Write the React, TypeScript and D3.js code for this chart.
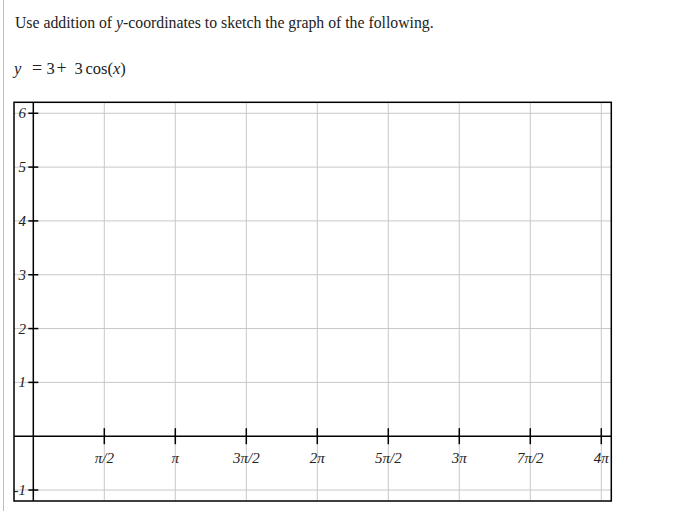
import React from "react";
import * as d3 from "d3";

const title = "Use addition of ";
const titleVar = "y";
const titleRest = "-coordinates to sketch the graph of the following.";
const xTickValues = [1, 2, 3, 4, 5, 6, 7, 8]; // in units of π/2
const xTickLabels = ["π/2", "π", "3π/2", "2π", "5π/2", "3π", "7π/2", "4π"];
const yTickValues = [-1, 1, 2, 3, 4, 5, 6];
const yTickLabels = ["-1", "1", "2", "3", "4", "5", "6"];
const xDomain = [-0.272, 8.141];
const yDomain = [-1.204, 6.204];

export default function App() {
  const W = 680, H = 511;
  const left = 14, right = 611.3, top = 102.3, bottom = 501;
  const x = d3.scaleLinear().domain(xDomain).range([left, right]);
  const y = d3.scaleLinear().domain(yDomain).range([bottom, top]);
  const grid = "#c8c8c8";
  const serif = { fontFamily: "Liberation Serif" };
  return (
    <svg width={W} height={H} style={{ position: "absolute", left: 0, top: 0, background: "#fff" }}>
      <line x1={3.5} x2={3.5} y1={0} y2={511} stroke="#bdbdbd" strokeWidth={1} />
      <text x={15} y={27.5} style={serif} fontSize={15.75} fill="#222">
        {title}
        <tspan fontStyle="italic">{titleVar}</tspan>
        {titleRest}
      </text>
      <text y={74} style={serif} fontSize={16.5} fill="#222">
        <tspan x={14} fontStyle="italic">y</tspan>
        <tspan x={32} fontSize={18}>=</tspan>
        <tspan x={46.5}>3</tspan>
        <tspan x={56.5} fontSize={18}>+</tspan>
        <tspan x={74.5}>3</tspan>
        <tspan x={85.5}>cos(</tspan>
        <tspan fontStyle="italic">x</tspan>
        <tspan>)</tspan>
      </text>
      {xTickValues.map((v) => (
        <line key={"gx" + v} x1={x(v)} x2={x(v)} y1={top} y2={bottom} stroke={grid} strokeWidth={1} />
      ))}
      {yTickValues.map((v) => (
        <line key={"gy" + v} x1={left} x2={right} y1={y(v)} y2={y(v)} stroke={grid} strokeWidth={1} />
      ))}
      <line x1={x(0)} x2={x(0)} y1={top} y2={bottom} stroke="#000" strokeWidth={1.5} />
      <line x1={left} x2={right} y1={y(0)} y2={y(0)} stroke="#000" strokeWidth={1.5} />
      {xTickValues.map((v, i) => (
        <g key={"tx" + v}>
          <line x1={x(v)} x2={x(v)} y1={y(0) - 8} y2={y(0) + 8} stroke="#000" strokeWidth={1.5} />
          <text x={x(v)} y={y(0) + 27} textAnchor="middle" style={serif} fontStyle="italic" fontSize={15} fill="#222">
            {xTickLabels[i]}
          </text>
        </g>
      ))}
      {yTickValues.map((v, i) => (
        <g key={"ty" + v}>
          <line x1={x(0) - 5} x2={x(0) + 5} y1={y(v)} y2={y(v)} stroke="#000" strokeWidth={1.5} />
          <text x={26} y={y(v) + 5} textAnchor="end" style={serif} fontStyle="italic" fontSize={15} fill="#222">
            {yTickLabels[i]}
          </text>
        </g>
      ))}
      <rect x={left} y={top} width={right - left} height={bottom - top} fill="none" stroke="#000" strokeWidth={1.5} />
    </svg>
  );
}
